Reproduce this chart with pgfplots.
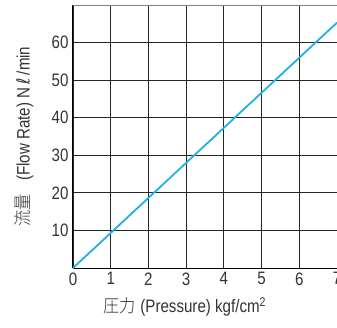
\documentclass[border=0pt]{standalone}
\usepackage{fontspec}
\setmainfont{Liberation Sans}[FakeStretch=0.84]
\newfontfamily\cjk{Noto Sans CJK JP Light}[FakeStretch=0.9]
\newfontfamily\djv{DejaVu Sans}[FakeStretch=0.85]
\usepackage{pgfplots}
\pgfplotsset{compat=1.18}
\definecolor{flow}{HTML}{1EB1E6}
\begin{document}
\begin{tikzpicture}[x=1pt,y=1pt]
\clip (0,0) rectangle (337,327);
\begin{axis}[
  at={(73pt,59pt)}, anchor=south west,
  scale only axis, width=264pt, height=263pt,
  xmin=0, xmax=7, ymin=0, ymax=70,
  xtick={0,1,2,3,4,5,6,7},
  ytick={10,20,30,40,50,60},
  axis x line*=bottom, axis y line*=left,
  grid=major,
  grid style={black!85, line width=0.8pt},
  axis line style={black, line width=1pt},
  major tick length=0pt,
  tick label style={font=\fontsize{18}{18}\selectfont, text=black!80},
  /pgf/number format/assume math mode=true,
  yticklabel style={xshift=-1pt},
  xticklabel style={yshift=-1pt},
  xlabel={{\cjk 圧力} (Pressure) kgf/cm\textsuperscript{2}},
  ylabel={{\cjk 流量}\enspace\ (Flow Rate) N\,{\djv ℓ}\,/min},
  label style={font=\fontsize{18}{18}\selectfont, text=black!80},
  xlabel style={at={(axis description cs:0.424,0)}, anchor=north, yshift=-26pt},
  ylabel style={at={(axis description cs:0,0.5)}, anchor=south, yshift=36pt},
]
\draw[black!50, line width=1pt] (axis cs:0,70) -- (axis cs:7,70);
\addplot[flow, line width=1.8pt] coordinates {(0,0) (7,65.3)};
\end{axis}
\end{tikzpicture}
\end{document}
